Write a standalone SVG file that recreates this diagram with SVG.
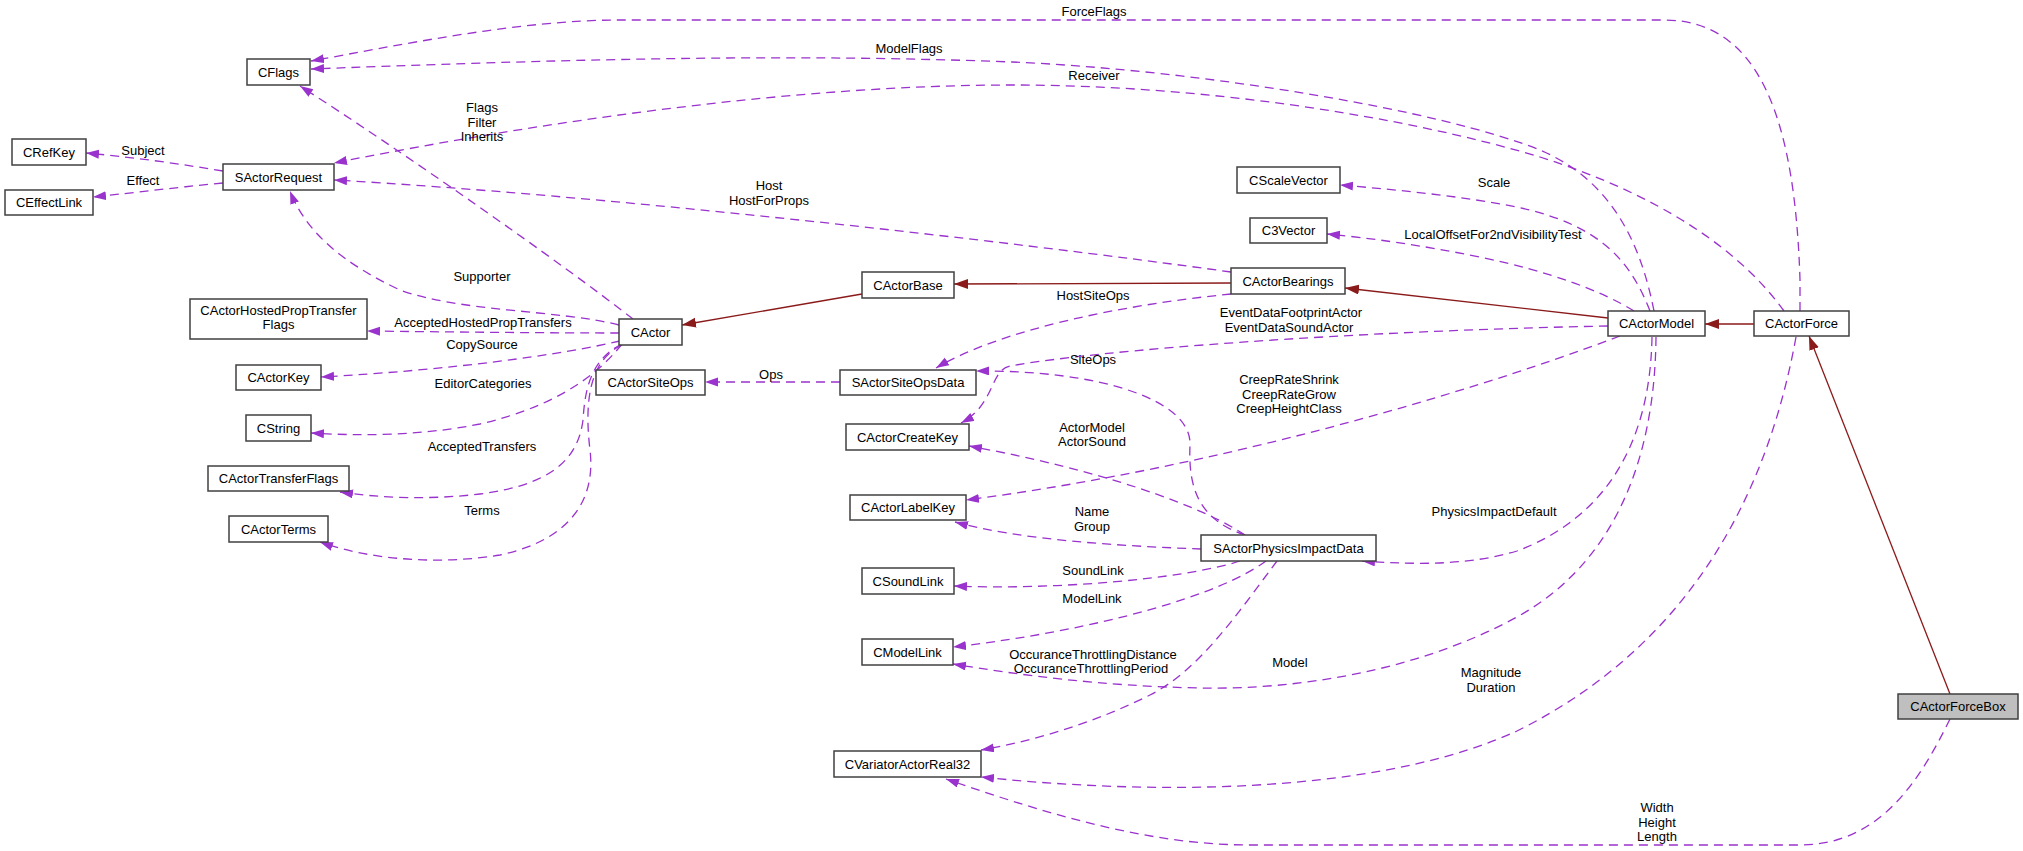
<svg xmlns="http://www.w3.org/2000/svg" width="2023" height="851" viewBox="0 0 2023 851">
<style>
.n rect{fill:#fff;stroke:#404040;stroke-width:1.5}
.n text,.l text{font-family:"Liberation Sans",Arial,sans-serif;font-size:13px;fill:#000;text-anchor:middle}
.u{fill:none;stroke:#9a32cd;stroke-width:1.3;stroke-dasharray:9,6;marker-end:url(#pa)}
.i{fill:none;stroke:#8b1a1a;stroke-width:1.3;marker-end:url(#ra)}
</style>
<defs>
<marker id="pa" markerUnits="userSpaceOnUse" markerWidth="14" markerHeight="10" refX="13" refY="4.5" orient="auto"><path d="M0,0 L13,4.5 L0,9 z" fill="#9a32cd"/></marker>
<marker id="ra" markerUnits="userSpaceOnUse" markerWidth="15" markerHeight="11" refX="14" refY="5" orient="auto"><path d="M0,0 L14,5 L0,10 z" fill="#8b1a1a"/></marker>
</defs>
<rect width="2023" height="851" fill="#fff"/>
<g id="connectors">
<path class="u" d="M1800,311 L1800,280 C1795,120 1760,20 1664,20 L620,20 C520,20 400,45 311,61"/>
<path class="u" d="M1654,311 C1640,240 1610,180 1540,150 C1440,110 1200,70 1012,62 C800,54 600,58 311,69"/>
<path class="u" d="M1784,311 C1740,250 1660,195 1540,157 C1400,115 1200,85 1012,85 C800,85 550,120 334,163"/>
<path class="u" d="M633,319 C560,262 400,150 300,86"/>
<path class="u" d="M619,325 C560,310 460,312 400,290 C340,262 305,230 290,191"/>
<path class="u" d="M619,333 C550,333 450,332 367,331"/>
<path class="u" d="M620,341 C560,355 450,370 321,377"/>
<path class="u" d="M622,344 C590,385 540,410 480,424 C420,436 360,436 311,433"/>
<path class="u" d="M622,344 C590,360 585,390 583,420 C578,460 550,485 480,494 C430,500 380,498 340,492"/>
<path class="u" d="M622,345 C590,360 584,400 590,450 C596,500 570,540 500,555 C440,565 370,560 320,542"/>
<path class="u" d="M1231,272 C1000,240 600,195 334,180"/>
<path class="u" d="M1231,294 C1120,305 1000,330 936,368"/>
<path class="u" d="M1608,326 C1350,331 1100,350 1010,366 C990,370 995,405 961,423"/>
<path class="u" d="M1245,535 C1200,520 1188,490 1190,445 C1192,400 1100,370 976,371"/>
<path class="u" d="M1620,336 C1450,400 1200,470 966,500"/>
<path class="u" d="M1245,535 C1200,505 1100,470 969,446"/>
<path class="u" d="M1201,549 C1120,546 1020,540 955,522"/>
<path class="u" d="M1240,561 C1180,580 1050,590 954,586"/>
<path class="u" d="M1266,561 C1220,595 1100,630 953,647"/>
<path class="u" d="M1277,561 C1240,610 1200,670 1150,695 C1100,720 1040,740 981,750"/>
<path class="u" d="M1652,337 C1650,450 1600,520 1517,551 C1470,565 1420,565 1362,561"/>
<path class="u" d="M1656,337 C1655,450 1620,560 1517,617 C1420,670 1300,690 1200,688 C1100,686 1020,675 953,664"/>
<path class="u" d="M1796,337 C1770,480 1700,640 1517,731 C1400,785 1200,800 981,777"/>
<path class="u" d="M1950,719 C1920,780 1880,845 1800,845 L1250,845 C1150,845 1050,815 946,779"/>
<path class="u" d="M1650,311 C1630,260 1600,225 1517,207 C1460,196 1400,190 1340,185"/>
<path class="u" d="M1634,311 C1600,290 1550,272 1480,257 C1420,245 1370,238 1327,234"/>
<path class="u" d="M840,382 L705,382"/>
<path class="u" d="M223,171 C180,164 140,158 86,153"/>
<path class="u" d="M223,183 C180,187 140,192 93,197"/>
<path class="i" d="M862,294 L682,325"/>
<path class="i" d="M1231,283 L954,284"/>
<path class="i" d="M1608,318 L1345,288"/>
<path class="i" d="M1754,324 L1705,324"/>
<path class="i" d="M1950,694 L1809,336"/>
</g>
<g id="labels" class="l">
<text x="1094" y="16">ForceFlags</text>
<text x="909" y="53">ModelFlags</text>
<text x="1094" y="80">Receiver</text>
<text x="482" y="112">Flags</text>
<text x="482" y="127">Filter</text>
<text x="482" y="141">Inherits</text>
<text x="143" y="155">Subject</text>
<text x="143" y="185">Effect</text>
<text x="769" y="190">Host</text>
<text x="769" y="205">HostForProps</text>
<text x="1494" y="187">Scale</text>
<text x="1493" y="239">LocalOffsetFor2ndVisibilityTest</text>
<text x="482" y="281">Supporter</text>
<text x="1093" y="300">HostSiteOps</text>
<text x="483" y="327">AcceptedHostedPropTransfers</text>
<text x="1291" y="317">EventDataFootprintActor</text>
<text x="1289" y="332">EventDataSoundActor</text>
<text x="482" y="349">CopySource</text>
<text x="1093" y="364">SiteOps</text>
<text x="771" y="379">Ops</text>
<text x="1289" y="384">CreepRateShrink</text>
<text x="1289" y="399">CreepRateGrow</text>
<text x="1289" y="413">CreepHeightClass</text>
<text x="483" y="388">EditorCategories</text>
<text x="1092" y="432">ActorModel</text>
<text x="1092" y="446">ActorSound</text>
<text x="482" y="451">AcceptedTransfers</text>
<text x="1494" y="516">PhysicsImpactDefault</text>
<text x="482" y="515">Terms</text>
<text x="1092" y="516">Name</text>
<text x="1092" y="531">Group</text>
<text x="1093" y="575">SoundLink</text>
<text x="1092" y="603">ModelLink</text>
<text x="1093" y="659">OccuranceThrottlingDistance</text>
<text x="1091" y="673">OccuranceThrottlingPeriod</text>
<text x="1290" y="667">Model</text>
<text x="1491" y="677">Magnitude</text>
<text x="1491" y="692">Duration</text>
<text x="1657" y="812">Width</text>
<text x="1657" y="827">Height</text>
<text x="1657" y="841">Length</text>
</g>
<g id="CFlags" class="n"><rect x="247" y="59" width="63" height="26"/><text x="278.5" y="76.5">CFlags</text></g>
<g id="CRefKey" class="n"><rect x="12" y="139" width="74" height="26"/><text x="49" y="156.5">CRefKey</text></g>
<g id="CEffectLink" class="n"><rect x="5" y="190" width="88" height="25"/><text x="49" y="207">CEffectLink</text></g>
<g id="SActorRequest" class="n"><rect x="223" y="164" width="111" height="26"/><text x="278.5" y="181.5">SActorRequest</text></g>
<g id="CActorHostedPropTransferFlags" class="n"><rect x="190" y="299" width="177" height="40"/><text x="278.5" y="315">CActorHostedPropTransfer</text><text x="278.5" y="329">Flags</text></g>
<g id="CActorKey" class="n"><rect x="236" y="365" width="85" height="25"/><text x="278.5" y="382">CActorKey</text></g>
<g id="CString" class="n"><rect x="246" y="415" width="65" height="26"/><text x="278.5" y="432.5">CString</text></g>
<g id="CActorTransferFlags" class="n"><rect x="208" y="466" width="141" height="25"/><text x="278.5" y="483">CActorTransferFlags</text></g>
<g id="CActorTerms" class="n"><rect x="229" y="516" width="99" height="26"/><text x="278.5" y="533.5">CActorTerms</text></g>
<g id="CActor" class="n"><rect x="619" y="319" width="63" height="26"/><text x="650.5" y="336.5">CActor</text></g>
<g id="CActorSiteOps" class="n"><rect x="596" y="370" width="109" height="25"/><text x="650.5" y="387">CActorSiteOps</text></g>
<g id="CActorBase" class="n"><rect x="862" y="272" width="92" height="26"/><text x="908" y="289.5">CActorBase</text></g>
<g id="SActorSiteOpsData" class="n"><rect x="840" y="370" width="136" height="25"/><text x="908" y="387">SActorSiteOpsData</text></g>
<g id="CActorCreateKey" class="n"><rect x="846" y="424" width="123" height="26"/><text x="907.5" y="441.5">CActorCreateKey</text></g>
<g id="CActorLabelKey" class="n"><rect x="850" y="495" width="116" height="25"/><text x="908" y="512">CActorLabelKey</text></g>
<g id="CSoundLink" class="n"><rect x="862" y="568" width="92" height="26"/><text x="908" y="585.5">CSoundLink</text></g>
<g id="CModelLink" class="n"><rect x="862" y="639" width="91" height="26"/><text x="907.5" y="656.5">CModelLink</text></g>
<g id="CVariatorActorReal32" class="n"><rect x="834" y="751" width="147" height="26"/><text x="907.5" y="768.5">CVariatorActorReal32</text></g>
<g id="CScaleVector" class="n"><rect x="1237" y="167" width="103" height="26"/><text x="1288.5" y="184.5">CScaleVector</text></g>
<g id="C3Vector" class="n"><rect x="1250" y="218" width="77" height="25"/><text x="1288.5" y="235">C3Vector</text></g>
<g id="CActorBearings" class="n"><rect x="1231" y="268" width="114" height="26"/><text x="1288" y="285.5">CActorBearings</text></g>
<g id="SActorPhysicsImpactData" class="n"><rect x="1201" y="535" width="175" height="26"/><text x="1288.5" y="552.5">SActorPhysicsImpactData</text></g>
<g id="CActorModel" class="n"><rect x="1608" y="311" width="97" height="25"/><text x="1656.5" y="328">CActorModel</text></g>
<g id="CActorForce" class="n"><rect x="1754" y="311" width="95" height="25"/><text x="1801.5" y="328">CActorForce</text></g>
<g id="CActorForceBox" class="n"><rect x="1898" y="694" width="120" height="25" style="fill:#bfbfbf"/><text x="1958" y="711">CActorForceBox</text></g>
</svg>
